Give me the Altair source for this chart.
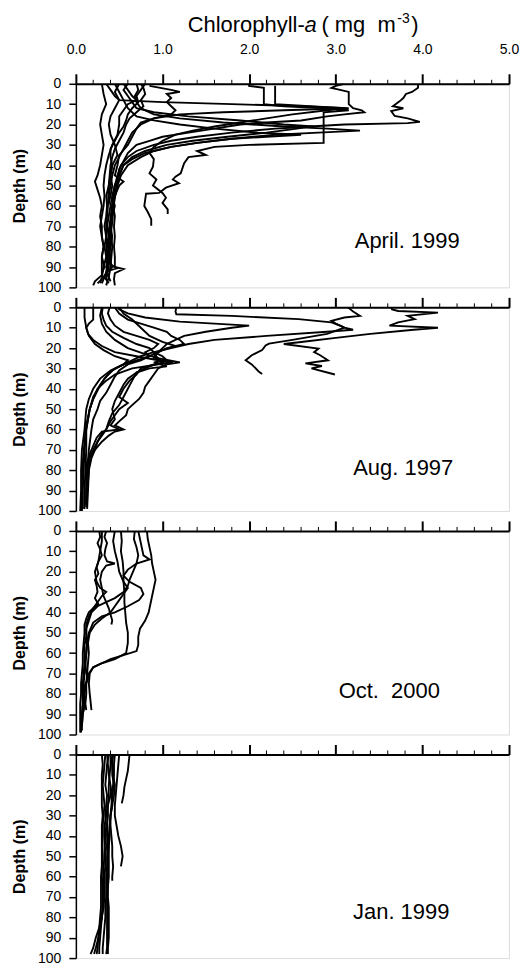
import altair as alt
import pandas as pd

# ---------------- data: (depth m, chlorophyll-a mg m-3) per profile ----------------
# April 1999
apr_1 = [(0,3.95),(2,3.95),(4,3.88),(5,3.81),(7,3.78),(8.5,3.74),(11,3.66),(12,3.78),(13.4,3.64),(15.8,3.68),(17,3.83),(18.7,3.97),(19.3,3.83),(20,3.1),(21,2.7),(22,2.55),(24,2.2),(26,1.75),(28,1.35),(30,1.05),(33,0.8),(36,0.65),(40,0.55),(45,0.5),(50,0.45),(55,0.42),(60,0.45),(65,0.42),(70,0.4),(75,0.42),(80,0.4),(85,0.38),(90,0.42),(93,0.35),(96,0.3),(98,0.25)]
apr_2 = [(0,3.1),(1,3.0),(2,2.95),(3,3.05),(4,3.15),(6,3.15),(8,3.15),(10,3.15),(12,3.2),(13,3.3),(14,3.33),(15,3.1),(16,2.9),(18,2.6),(19,2.2),(20,1.9),(22,1.6),(24,1.3),(26,1.0),(28,0.85),(30,0.7),(34,0.6),(38,0.55),(42,0.5),(48,0.48),(55,0.45),(62,0.42),(70,0.4),(78,0.38),(86,0.4),(92,0.35),(97,0.4)]
apr_3 = [(0,2.0),(1,2.0),(2,2.17),(5,2.17),(8,2.17),(10,2.17),(11,2.4),(12,2.9),(13,3.15),(14,2.86),(18,2.86),(22,2.86),(26,2.86),(29,2.86),(30,2.0),(31,1.6),(33,1.4),(35,1.5),(36,1.3),(39,1.25),(44,1.21),(45.6,1.15),(47,1.12),(48.8,1.19),(51,1.04),(53.6,0.96),(54,0.81),(57,0.8),(60,0.79),(63,0.83),(66.5,0.87),(69.7,0.87)]
apr_4 = [(1,2.3),(4,2.3),(7,2.3),(10,2.3),(11,2.7),(12,3.1),(13,2.9),(15,2.5),(17,2.2),(19,1.9),(21,1.6),(23,1.35),(25,1.15),(28,1.0),(31,0.9),(34,0.85),(37,0.9),(40.7,0.89),(44,0.85),(47,0.93),(50,0.89),(53.6,1.0),(56,1.04),(58.5,1.0),(61.7,1.06),(64,1.06)]
apr_5 = [(0,0.6),(3,0.55),(6,0.6),(9,0.65),(12,0.7),(14,0.9),(16,1.3),(18,1.9),(20,2.4),(21,2.75),(22,2.3),(24,1.8),(26,1.4),(28,1.1),(30,0.9),(33,0.7),(36,0.6),(40,0.52),(45,0.48),(50,0.45),(55,0.43),(60,0.42),(66,0.4),(72,0.38),(78,0.4),(84,0.37),(90,0.38),(95,0.33),(98,0.3)]
apr_6 = [(0,0.7),(3,0.72),(6,0.68),(9,0.7),(12,0.75),(15,0.9),(17,1.2),(19,1.7),(21,2.4),(22,2.9),(23,3.28),(24,2.8),(25,2.3),(27,1.8),(29,1.4),(31,1.1),(33,0.9),(36,0.75),(40,0.6),(45,0.52),(50,0.48),(56,0.45),(62,0.43),(68,0.42),(75,0.4),(82,0.38),(88,0.38),(90.7,0.47),(92,0.36),(95,0.33),(98,0.38)]
apr_7 = [(0,0.45),(4,0.5),(8,0.55),(12,0.6),(16,0.7),(18,0.9),(20,1.2),(22,1.6),(24,2.1),(25,2.6),(26,2.2),(27,1.8),(29,1.4),(31,1.1),(34,0.8),(37,0.65),(40,0.55),(45,0.5),(50,0.45),(60,0.42),(70,0.4),(80,0.38),(90,0.36),(96,0.35)]
apr_8 = [(0,0.35),(3,0.4),(6,0.45),(8,0.5),(9,1.0),(10,1.8),(11,2.6),(12,3.15),(13,2.4),(14,1.7),(15,1.2),(17,0.9),(20,0.75),(24,0.65),(28,0.6),(32,0.55),(36,0.5),(40,0.45),(45,0.42),(50,0.4),(55,0.38),(60,0.4),(65,0.38),(70,0.36),(75,0.38),(80,0.35),(85,0.37),(90,0.35),(95,0.38),(99,0.35)]
apr_9 = [(1,0.85),(3,1.1),(4,1.2),(5,1.05),(7,1.1),(9,1.05),(11,1.1),(13,1.15),(15,1.1),(17,0.9),(19,0.75),(22,0.7),(26,0.65),(30,0.6),(35,0.5),(40,0.48),(45,0.45),(48,0.55),(50,0.5),(55,0.45),(60,0.42),(70,0.4),(80,0.42),(90,0.4),(95,0.38)]
apr_10 = [(0,0.3),(5,0.32),(10,0.35),(15,0.3),(20,0.28),(25,0.3),(30,0.32),(35,0.3),(40,0.28),(45,0.25),(48,0.22),(52,0.25),(56,0.28),(60,0.3),(65,0.28),(70,0.3),(75,0.3),(80,0.32),(85,0.3),(90,0.3),(94,0.3),(97,0.22),(99,0.2)]
apr_11 = [(0,0.5),(4,0.45),(8,0.5),(12,0.45),(16,0.4),(20,0.38),(25,0.4),(30,0.45),(35,0.48),(40,0.42),(45,0.4),(50,0.38),(55,0.35),(60,0.36),(65,0.35),(70,0.33),(75,0.35),(80,0.33),(85,0.35),(90,0.32),(95,0.3),(98,0.28)]
apr_12 = [(0,0.8),(3,0.75),(6,0.7),(9,0.72),(12,0.65),(15,0.6),(18,0.58),(21,0.55),(24,0.5),(28,0.45),(32,0.4),(36,0.4),(40,0.42),(45,0.4),(50,0.42),(55,0.4),(60,0.43),(65,0.45),(70,0.44),(75,0.45),(80,0.44),(85,0.45),(90,0.45),(91,0.55),(93,0.45),(96,0.44),(99,0.45)]
apr_13 = [(0,0.55),(3,0.6),(6,0.65),(8,0.7),(10,0.6),(13,0.55),(16,0.5),(20,0.5),(25,0.48),(30,0.42),(35,0.38),(40,0.35),(45,0.33),(50,0.32),(55,0.33),(60,0.32),(65,0.3),(70,0.28),(75,0.3),(80,0.32),(85,0.3),(90,0.33),(93,0.3)]
apr_14 = [(0,0.75),(2,0.78),(5,0.8),(8,0.75),(11,0.78),(14,0.7),(17,0.62),(20,0.58),(24,0.55),(28,0.5),(32,0.45),(36,0.42),(40,0.4),(50,0.38),(60,0.37),(70,0.35),(80,0.36),(88,0.35)]

# August 1997
aug_1 = [(0,3.64),(1,3.65),(1.8,3.72),(2.6,4.18),(4.2,3.83),(5.8,3.91),(7.4,3.72),(9,3.62),(10,4.18),(11,3.9),(13,3.4),(15,3.0),(17,2.6),(18,2.4),(20.3,2.8),(22,2.75),(23.5,2.82),(26,2.91),(27.5,2.65),(28.8,2.84),(30,2.72),(33,2.99)]
aug_2 = [(0,3.14),(2,3.2),(4.2,3.28),(5,3.1),(6.6,2.95),(8,3.0),(10,3.1),(13,2.9),(16,2.5),(17.8,2.23),(18.7,2.19),(21,2.15),(23.5,2.03),(26,1.96),(28,2.03),(31.5,2.11),(32.7,2.15)]
aug_3 = [(0,1.16),(2,1.15),(3.4,1.16),(4.2,1.8),(5.8,2.57),(7.4,2.95),(9,3.05),(10,3.1),(11,3.2),(12,2.9),(14,2.2),(16,1.6),(18,1.3),(20,1.1),(22,0.9),(24,0.75),(27,0.6),(30,0.45),(34,0.35),(38,0.28),(44,0.2),(50,0.16),(60,0.12),(70,0.1),(80,0.09),(90,0.08),(99,0.08)]
aug_4 = [(0,0.49),(1,0.5),(3,0.6),(5,0.8),(7,1.2),(8,1.6),(9,2.0),(10,1.8),(12,1.5),(14,1.25),(16,1.15),(18,1.05),(20,1.0),(22,0.95),(24,0.85),(26,0.7),(28,0.55),(31,0.42),(35,0.33),(40,0.26),(45,0.2),(50,0.16),(58,0.12),(66,0.1),(76,0.08),(86,0.07),(95,0.07),(100,0.07)]
aug_5 = [(0,0.1),(5,0.1),(10,0.12),(14,0.15),(18,0.22),(21,0.32),(24,0.45),(26,0.6),(28,0.55),(31,0.4),(35,0.28),(40,0.2),(45,0.15),(50,0.12),(60,0.1),(70,0.07),(80,0.06),(90,0.06),(100,0.05)]
aug_6 = [(0,0.2),(3,0.2),(6,0.2),(8,0.15),(10,0.12),(13,0.14),(16,0.2),(19,0.3),(22,0.45),(24,0.7),(26,0.95),(27,1.12),(28,0.95),(30,0.65),(33,0.45),(36,0.35),(40,0.25),(45,0.2),(50,0.16),(55,0.14),(60,0.12),(70,0.12),(80,0.11),(90,0.1),(99,0.1)]
aug_7 = [(0,0.31),(3,0.3),(6,0.32),(9,0.35),(12,0.42),(15,0.55),(18,0.7),(20,0.85),(22,0.9),(24,1.0),(26,1.05),(27,0.9),(29,1.05),(30,0.85),(32,0.7),(35,0.6),(38,0.55),(42,0.5),(46,0.45),(50,0.42),(55,0.45),(58,0.4),(60,0.5),(61,0.3),(64,0.24),(68,0.2),(72,0.16),(80,0.15),(90,0.14),(99,0.13)]
aug_8 = [(0,0.39),(3,0.37),(6,0.4),(9,0.45),(12,0.55),(14,0.7),(16,0.85),(18,0.95),(20,0.9),(22,0.8),(24,0.85),(26,0.75),(28,0.6),(31,0.5),(34,0.45),(38,0.4),(42,0.35),(46,0.28),(50,0.25),(55,0.2),(60,0.18),(70,0.15),(80,0.13),(90,0.12),(98,0.12)]
aug_9 = [(0,0.45),(3,0.5),(6,0.6),(8,0.75),(10,0.9),(12,1.05),(14,1.1),(16,1.2),(18,1.25),(20,1.05),(22,0.95),(25,0.9),(27,1.1),(28,0.9),(30,0.75),(33,0.7),(36,0.62),(40,0.55),(44,0.5),(47,0.6),(50,0.5),(53,0.45),(56,0.4),(60,0.35),(63,0.3),(66,0.25),(70,0.2),(75,0.15),(80,0.13),(90,0.12),(97,0.12)]
aug_10 = [(0,0.3),(4,0.28),(8,0.3),(12,0.35),(16,0.45),(20,0.6),(23,0.8),(25,0.95),(27,1.0),(29,0.85),(32,0.7),(36,0.65),(40,0.6),(44,0.55),(48,0.5),(52,0.42),(56,0.38),(60,0.35),(62,0.3),(66,0.25),(70,0.22),(74,0.18),(80,0.15),(86,0.14),(90,0.13),(96,0.12)]
aug_11 = [(0,0.5),(3,0.55),(6,0.65),(10,0.75),(14,0.85),(17,1.0),(19,1.15),(21,1.0),(23,0.9),(25,0.95),(27,1.2),(28,1.05),(30,0.95),(33,0.9),(36,0.85),(39,0.8),(42,0.78),(45,0.73),(48,0.65),(50,0.6),(53,0.58),(56,0.5),(58,0.45),(60,0.55),(61,0.45),(63,0.38),(66,0.3),(70,0.22),(73,0.16),(76,0.13),(80,0.12)]

# October 2000
oct_1 = [(0,0.27),(3,0.28),(6,0.25),(9,0.28),(12,0.3),(15,0.26),(18,0.24),(21,0.26),(24,0.22),(27,0.24),(30,0.25),(33,0.22),(36,0.26),(38,0.2),(40,0.15),(43,0.12),(46,0.1),(50,0.1),(55,0.09),(60,0.08),(65,0.08),(70,0.07),(75,0.06),(80,0.06),(85,0.05),(90,0.05),(95,0.05),(99,0.05)]
oct_2 = [(0,0.35),(3,0.33),(6,0.36),(9,0.34),(12,0.33),(15,0.36),(16,0.45),(17,0.35),(20,0.3),(24,0.28),(28,0.3),(32,0.32),(35,0.35),(38,0.38),(41,0.4),(44,0.42),(46,0.41)]
oct_3 = [(0,0.52),(5,0.53),(10,0.52),(15,0.54),(20,0.55),(25,0.55),(30,0.56),(35,0.56),(40,0.57),(45,0.58),(50,0.6),(55,0.6),(60,0.58),(63,0.45),(65,0.3),(67,0.2),(70,0.15),(75,0.12),(80,0.1),(85,0.1),(90,0.08),(95,0.07),(98,0.07)]
oct_4 = [(0,0.68),(4,0.67),(8,0.7),(12,0.72),(16,0.7),(20,0.66),(24,0.62),(27,0.6),(30,0.55),(33,0.45),(35,0.35),(37,0.25),(40,0.18),(44,0.15),(48,0.12),(52,0.12),(56,0.1),(60,0.1),(65,0.1),(70,0.09),(75,0.08),(80,0.08),(85,0.08),(90,0.07),(94,0.06)]
oct_5 = [(0,0.82),(4,0.83),(8,0.85),(12,0.87),(16,0.88),(20,0.9),(24,0.92),(28,0.9),(32,0.88),(36,0.86),(40,0.84),(44,0.8),(48,0.74),(52,0.72),(56,0.72),(59,0.7),(61,0.55),(63,0.4),(65,0.3),(67,0.2),(70,0.16),(75,0.15),(80,0.16),(84,0.17),(88,0.18)]
oct_6 = [(0,0.72),(4,0.74),(8,0.76),(12,0.78),(14,0.85),(16,0.7),(19,0.6),(22,0.55),(25,0.62),(28,0.75),(31,0.78),(34,0.73),(37,0.6),(40,0.45),(42,0.3),(45,0.2),(50,0.15),(55,0.13),(60,0.12),(65,0.11),(70,0.1),(75,0.09),(80,0.08),(85,0.08),(90,0.07),(95,0.06),(99,0.06)]
oct_7 = [(0,0.3),(5,0.3),(10,0.28),(15,0.26),(20,0.22),(25,0.24),(28,0.28),(30,0.35),(32,0.3),(35,0.25),(38,0.2),(42,0.15),(46,0.12),(50,0.12),(55,0.13),(60,0.12),(65,0.11),(70,0.12),(72,0.15),(76,0.1),(80,0.09),(86,0.1),(90,0.08),(96,0.07)]
oct_8 = [(0,0.45),(5,0.43),(10,0.45),(15,0.48),(20,0.5),(25,0.55),(28,0.6),(31,0.55),(34,0.5),(37,0.45),(40,0.4),(43,0.3),(46,0.22),(50,0.16),(55,0.14),(60,0.15),(65,0.14),(70,0.13),(75,0.12),(80,0.12),(85,0.11),(88,0.12)]

# January 1999
jan_1 = [(0,0.62),(4,0.61),(8,0.6),(12,0.58),(16,0.56),(20,0.55),(24,0.53)]
jan_2 = [(0,0.5),(5,0.49),(10,0.48),(15,0.47),(20,0.46),(25,0.45),(30,0.45),(35,0.47),(40,0.49),(45,0.52),(50,0.54),(55,0.52)]
jan_3 = [(0,0.43),(5,0.42),(10,0.42),(15,0.44),(20,0.42),(25,0.41),(30,0.4),(35,0.4),(40,0.41),(45,0.42),(50,0.42),(55,0.43),(60,0.42),(62,0.42)]
jan_4 = [(0,0.38),(5,0.36),(10,0.35),(15,0.34),(20,0.36),(25,0.35),(30,0.34),(35,0.35),(40,0.34),(45,0.35),(50,0.34),(55,0.34),(60,0.33),(65,0.33),(70,0.33),(75,0.32),(80,0.3),(85,0.27),(90,0.23),(95,0.2),(98,0.17)]
jan_5 = [(0,0.34),(5,0.33),(10,0.32),(15,0.31),(20,0.32),(25,0.33),(30,0.32),(35,0.31),(40,0.31),(45,0.3),(50,0.31),(55,0.3),(60,0.3),(65,0.31),(70,0.31),(75,0.31),(80,0.3),(85,0.29),(90,0.28),(95,0.27),(98,0.27)]
jan_6 = [(0,0.4),(5,0.4),(10,0.39),(15,0.38),(20,0.38),(25,0.37),(30,0.37),(35,0.36),(40,0.36),(45,0.37),(50,0.36),(55,0.36),(60,0.35),(65,0.35),(70,0.35),(75,0.34),(80,0.34),(85,0.33),(90,0.32),(95,0.31),(98,0.31)]
jan_7 = [(0,0.36),(5,0.37),(10,0.38),(15,0.4),(20,0.41),(25,0.42),(30,0.4),(35,0.39),(40,0.38),(45,0.38),(50,0.37),(55,0.37),(60,0.37),(65,0.37),(70,0.36),(75,0.36),(80,0.36),(85,0.36),(90,0.36),(95,0.36),(98,0.35)]
jan_8 = [(0,0.45),(5,0.44),(10,0.44),(15,0.43),(20,0.4),(25,0.37),(30,0.35),(35,0.33),(40,0.33),(45,0.33),(50,0.33),(55,0.32),(60,0.32),(65,0.32),(70,0.32),(75,0.31),(80,0.3),(85,0.28),(90,0.26),(95,0.23),(98,0.21)]
jan_9 = [(0,0.3),(5,0.31),(10,0.3),(15,0.3),(20,0.3),(25,0.3),(30,0.31),(35,0.3),(40,0.3),(45,0.3),(50,0.3),(55,0.3),(60,0.29),(65,0.29),(70,0.29),(75,0.29),(80,0.28),(85,0.27),(90,0.26),(95,0.25),(98,0.24)]
jan_10 = [(0,0.4),(5,0.42),(10,0.43),(15,0.45),(20,0.44),(25,0.42),(30,0.4),(35,0.39),(40,0.39),(45,0.38),(50,0.38),(55,0.38),(60,0.38),(65,0.37),(70,0.37),(75,0.38),(80,0.38),(85,0.38),(90,0.38),(95,0.37),(98,0.37)]

panel_labels = ["April. 1999", "Aug. 1997", "Oct.\u00a0\u00a02000", "Jan. 1999"]
panel_profiles = [
    [apr_1, apr_2, apr_3, apr_4, apr_5, apr_6, apr_7, apr_8, apr_9, apr_10, apr_11, apr_12, apr_13, apr_14],
    [aug_1, aug_2, aug_3, aug_4, aug_5, aug_6, aug_7, aug_8, aug_9, aug_10, aug_11],
    [oct_1, oct_2, oct_3, oct_4, oct_5, oct_6, oct_7, oct_8],
    [jan_1, jan_2, jan_3, jan_4, jan_5, jan_6, jan_7, jan_8, jan_9, jan_10],
]

x_major = [0, 1, 2, 3, 4, 5]
x_minor = [0.2, 0.4, 0.6, 0.8, 1.2, 1.4, 1.6, 1.8, 2.2, 2.4, 2.6, 2.8,
           3.2, 3.4, 3.6, 3.8, 4.2, 4.4, 4.6, 4.8]
y_ticks = list(range(0, 101, 10))

FONT = "Liberation Sans"
W, H = 434, 204

# panel-label anchor (pixels inside each plot area)
label_px = [(332, 158), (328, 161), (314, 160), (326, 158)]


def x_axis(show_labels):
    return alt.Axis(
        orient="top", values=x_major, title=None, grid=False, format=".1f",
        domainWidth=2, domainColor="black", tickColor="black",
        tickSize=10, tickWidth=2,
        labels=show_labels,
        labelPadding=17, labelFontSize=14, labelFont=FONT, labelColor="black",
        labelOverlap=False, labelFlush=False, labelBound=False,
    )


y_axis = alt.Axis(
    values=y_ticks, title="Depth (m)", grid=False,
    domainWidth=1.5, domainColor="black", tickColor="black", tickSize=7, tickWidth=1.5,
    labelPadding=8, labelFontSize=14, labelFont=FONT, labelColor="black",
    labelOverlap=False, labelBound=False, labelFlush=False,
    titleFont=FONT, titleFontSize=16, titleFontWeight="bold", titleColor="black",
    titlePadding=10,
)


def make_panel(i):
    rows = []
    for j, prof in enumerate(panel_profiles[i]):
        for d, c in prof:
            rows.append({"profile": f"p{j}", "depth": d, "chl": c})
    df = pd.DataFrame(rows)
    xs = alt.Scale(domain=[0, 5], nice=False, zero=False)
    lines = alt.Chart(df).mark_line(color="black", strokeWidth=1.9, clip=True).encode(
        x=alt.X("chl:Q", scale=xs, axis=x_axis(i == 0)),
        y=alt.Y("depth:Q", scale=alt.Scale(domain=[0, 100], reverse=True, nice=False), axis=y_axis),
        detail="profile:N",
        order="depth:Q",
    )
    minor = alt.Chart(pd.DataFrame({"chl": x_minor})).mark_rule(color="black", strokeWidth=1).encode(
        x=alt.X("chl:Q", scale=xs, axis=x_axis(i == 0)), y=alt.value(0), y2=alt.value(-4)
    )
    lx, ly = label_px[i]
    lab = alt.Chart(pd.DataFrame({"t": [panel_labels[i]]})).mark_text(
        font=FONT, fontSize=22, color="black", align="center", baseline="middle"
    ).encode(x=alt.value(lx), y=alt.value(ly), text="t:N")
    layers = [lines, minor, lab]
    if i == 0:
        pieces = [
            ("Chlorophyll-", 112, -52, 22, "normal"),
            ("a", 229, -52, 22, "italic"),
            ("\u00a0(\u00a0mg\u00a0\u00a0m", 246, -52, 22, "normal"),
            ("-3", 322, -61, 14, "normal"),
            ("\u00a0)", 336, -52, 22, "normal"),
        ]
        for txt, px, py, fs, st in pieces:
            layers.append(
                alt.Chart(pd.DataFrame({"t": [txt]})).mark_text(
                    font=FONT, fontSize=fs, fontStyle=st, color="black",
                    align="left", baseline="alphabetic"
                ).encode(x=alt.value(px), y=alt.value(py), text="t:N")
            )
    return alt.layer(*layers).properties(width=W, height=H)


chart = alt.vconcat(*[make_panel(i) for i in range(4)], spacing=20, bounds="flush").configure_view(
    stroke=None
).configure(background="white", padding={"left": 3, "top": 2, "right": 0, "bottom": 0})

chart.save("out.html", embed_options={"renderer": "svg", "actions": False})
